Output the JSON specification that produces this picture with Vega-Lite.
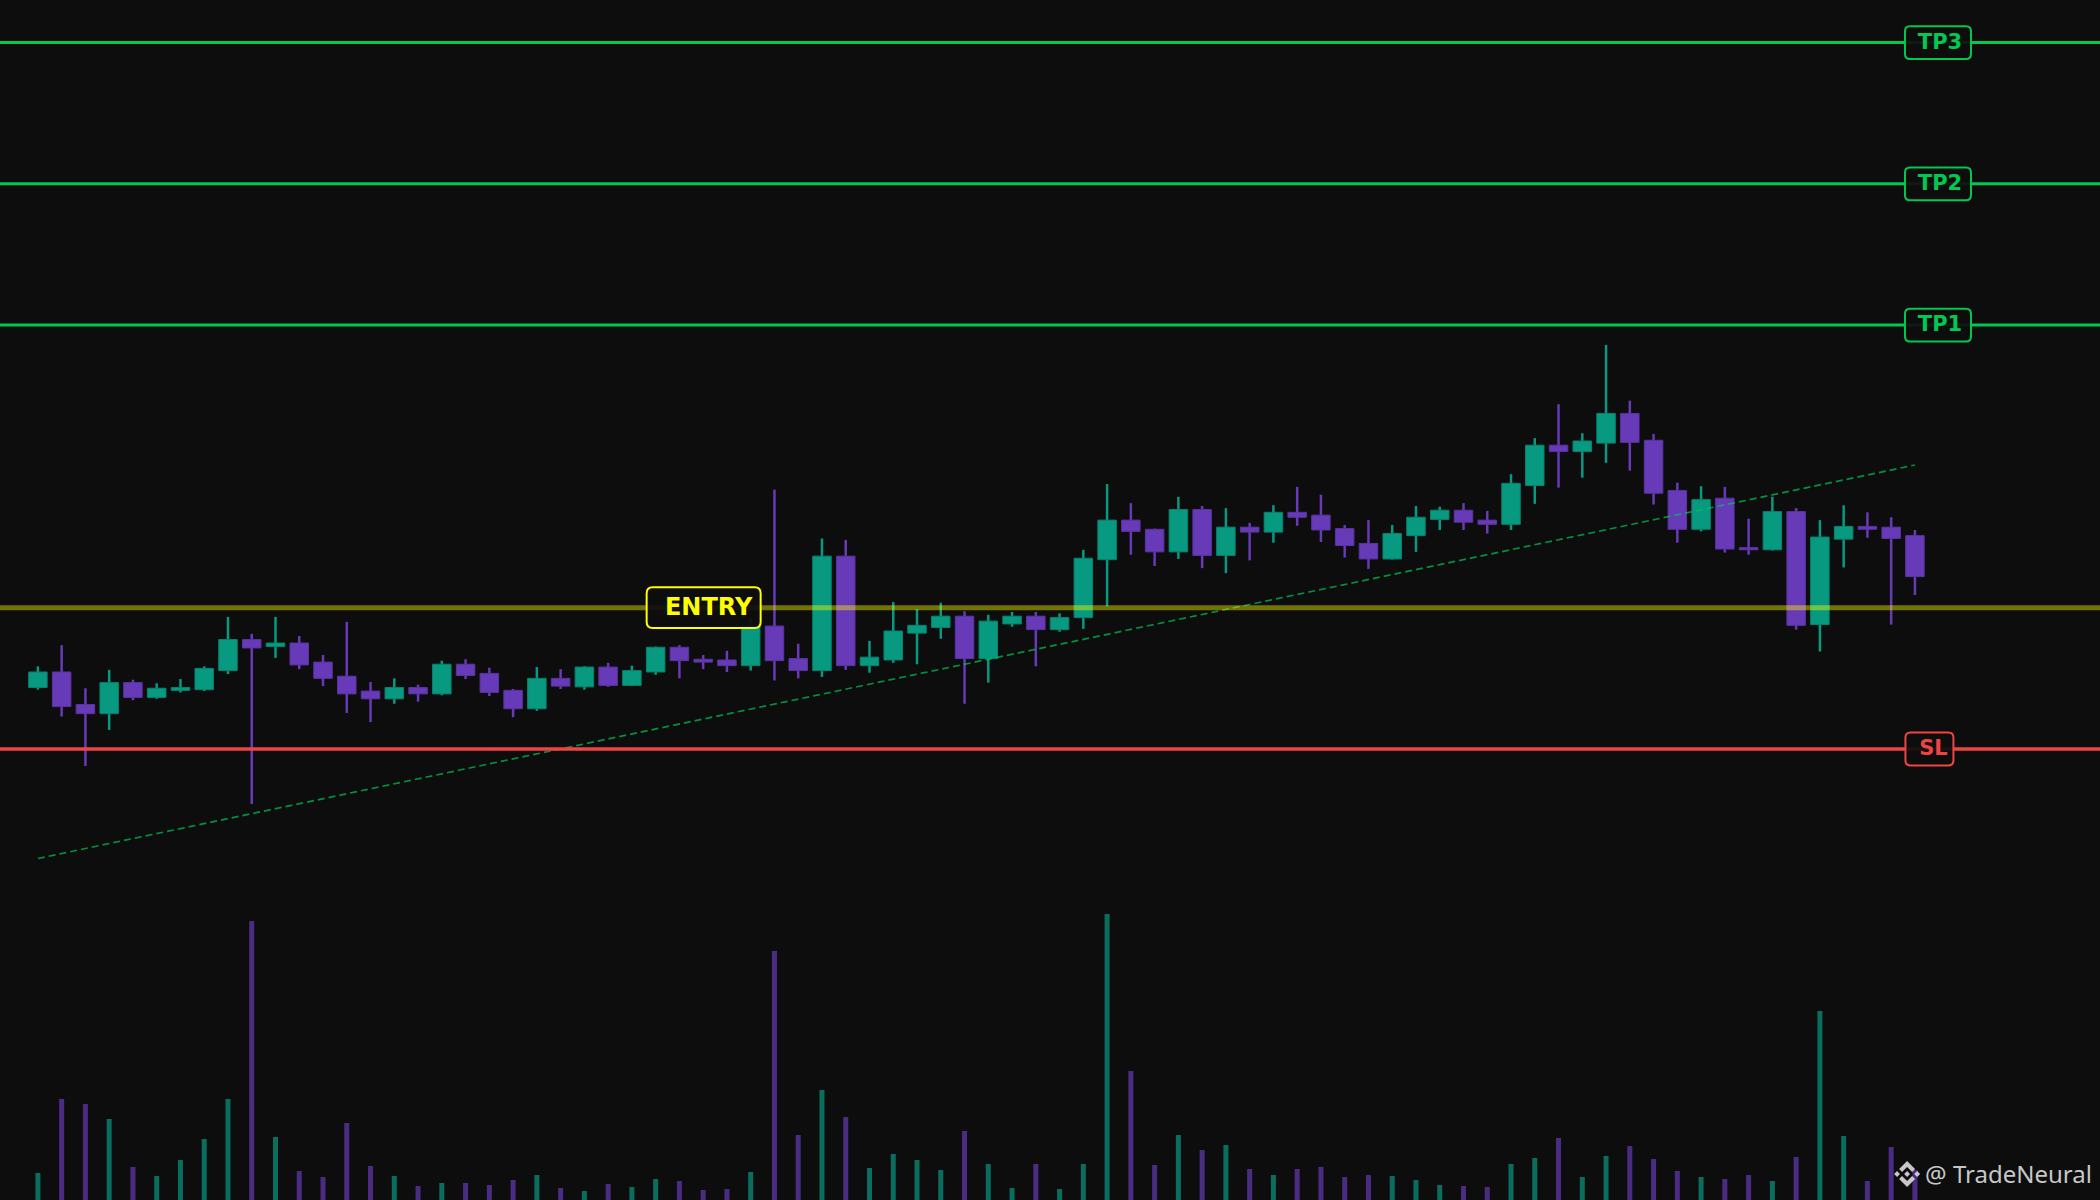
{
  "$schema": "https://vega.github.io/schema/vega-lite/v6.json",
  "width": 2100,
  "height": 1200,
  "autosize": {"type": "none"},
  "padding": 0,
  "background": "#0d0d0d",
  "config": {"view": {"stroke": null}},
  "datasets": {
    "candles": [
      {"i": 1, "open": 98.87, "high": 99.17, "low": 98.84, "close": 99.09, "volume": 270},
      {"i": 2, "open": 99.09, "high": 99.47, "low": 98.46, "close": 98.6, "volume": 1010},
      {"i": 3, "open": 98.63, "high": 98.86, "low": 97.76, "close": 98.5, "volume": 960},
      {"i": 4, "open": 98.5, "high": 99.12, "low": 98.27, "close": 98.94, "volume": 810},
      {"i": 5, "open": 98.94, "high": 98.98, "low": 98.69, "close": 98.73, "volume": 330},
      {"i": 6, "open": 98.73, "high": 98.93, "low": 98.71, "close": 98.86, "volume": 240},
      {"i": 7, "open": 98.83, "high": 98.99, "low": 98.8, "close": 98.87, "volume": 400},
      {"i": 8, "open": 98.84, "high": 99.17, "low": 98.82, "close": 99.14, "volume": 610},
      {"i": 9, "open": 99.11, "high": 99.87, "low": 99.06, "close": 99.55, "volume": 1010},
      {"i": 10, "open": 99.55, "high": 99.63, "low": 97.22, "close": 99.43, "volume": 2790},
      {"i": 11, "open": 99.45, "high": 99.87, "low": 99.29, "close": 99.5, "volume": 630},
      {"i": 12, "open": 99.5, "high": 99.6, "low": 99.13, "close": 99.19, "volume": 290},
      {"i": 13, "open": 99.23, "high": 99.33, "low": 98.89, "close": 99.0, "volume": 230},
      {"i": 14, "open": 99.03, "high": 99.8, "low": 98.51, "close": 98.78, "volume": 770},
      {"i": 15, "open": 98.82, "high": 98.95, "low": 98.38, "close": 98.71, "volume": 340},
      {"i": 16, "open": 98.71, "high": 99.0, "low": 98.64, "close": 98.87, "volume": 240},
      {"i": 17, "open": 98.87, "high": 98.91, "low": 98.67, "close": 98.78, "volume": 140},
      {"i": 18, "open": 98.78, "high": 99.25, "low": 98.76, "close": 99.2, "volume": 170},
      {"i": 19, "open": 99.2, "high": 99.27, "low": 98.99, "close": 99.04, "volume": 170},
      {"i": 20, "open": 99.07, "high": 99.15, "low": 98.75, "close": 98.8, "volume": 150},
      {"i": 21, "open": 98.83, "high": 98.85, "low": 98.45, "close": 98.57, "volume": 200},
      {"i": 22, "open": 98.57, "high": 99.16, "low": 98.54, "close": 99.0, "volume": 250},
      {"i": 23, "open": 99.0, "high": 99.13, "low": 98.85, "close": 98.89, "volume": 120},
      {"i": 24, "open": 98.88, "high": 99.17, "low": 98.84, "close": 99.16, "volume": 90},
      {"i": 25, "open": 99.16, "high": 99.22, "low": 98.88, "close": 98.9, "volume": 160},
      {"i": 26, "open": 98.9, "high": 99.18, "low": 98.89, "close": 99.11, "volume": 130},
      {"i": 27, "open": 99.09, "high": 99.45, "low": 99.05, "close": 99.44, "volume": 210},
      {"i": 28, "open": 99.44, "high": 99.47, "low": 99.0, "close": 99.25, "volume": 190},
      {"i": 29, "open": 99.27, "high": 99.33, "low": 99.13, "close": 99.23, "volume": 100},
      {"i": 30, "open": 99.26, "high": 99.39, "low": 99.09, "close": 99.18, "volume": 110},
      {"i": 31, "open": 99.18, "high": 99.85, "low": 99.11, "close": 99.74, "volume": 280},
      {"i": 32, "open": 99.74, "high": 101.67, "low": 98.97, "close": 99.25, "volume": 2490},
      {"i": 33, "open": 99.28, "high": 99.49, "low": 99.0, "close": 99.11, "volume": 650},
      {"i": 34, "open": 99.11, "high": 100.98, "low": 99.02, "close": 100.73, "volume": 1100},
      {"i": 35, "open": 100.73, "high": 100.96, "low": 99.12, "close": 99.18, "volume": 830},
      {"i": 36, "open": 99.18, "high": 99.53, "low": 99.08, "close": 99.3, "volume": 320},
      {"i": 37, "open": 99.26, "high": 100.08, "low": 99.22, "close": 99.67, "volume": 460},
      {"i": 38, "open": 99.64, "high": 99.98, "low": 99.2, "close": 99.75, "volume": 400},
      {"i": 39, "open": 99.72, "high": 100.07, "low": 99.56, "close": 99.88, "volume": 300},
      {"i": 40, "open": 99.88, "high": 99.95, "low": 98.64, "close": 99.28, "volume": 690},
      {"i": 41, "open": 99.28, "high": 99.9, "low": 98.94, "close": 99.81, "volume": 360},
      {"i": 42, "open": 99.77, "high": 99.94, "low": 99.73, "close": 99.88, "volume": 120},
      {"i": 43, "open": 99.88, "high": 99.94, "low": 99.17, "close": 99.69, "volume": 360},
      {"i": 44, "open": 99.69, "high": 99.92, "low": 99.66, "close": 99.86, "volume": 110},
      {"i": 45, "open": 99.86, "high": 100.82, "low": 99.7, "close": 100.7, "volume": 360},
      {"i": 46, "open": 100.68, "high": 101.75, "low": 100.02, "close": 101.24, "volume": 2860},
      {"i": 47, "open": 101.24, "high": 101.48, "low": 100.75, "close": 101.08, "volume": 1290},
      {"i": 48, "open": 101.11, "high": 101.12, "low": 100.59, "close": 100.79, "volume": 350},
      {"i": 49, "open": 100.79, "high": 101.57, "low": 100.69, "close": 101.39, "volume": 650},
      {"i": 50, "open": 101.39, "high": 101.44, "low": 100.56, "close": 100.74, "volume": 500},
      {"i": 51, "open": 100.74, "high": 101.41, "low": 100.49, "close": 101.14, "volume": 550},
      {"i": 52, "open": 101.14, "high": 101.2, "low": 100.67, "close": 101.07, "volume": 310},
      {"i": 53, "open": 101.07, "high": 101.45, "low": 100.92, "close": 101.35, "volume": 250},
      {"i": 54, "open": 101.35, "high": 101.71, "low": 101.16, "close": 101.28, "volume": 310},
      {"i": 55, "open": 101.31, "high": 101.6, "low": 100.93, "close": 101.1, "volume": 330},
      {"i": 56, "open": 101.12, "high": 101.17, "low": 100.71, "close": 100.88, "volume": 230},
      {"i": 57, "open": 100.91, "high": 101.24, "low": 100.55, "close": 100.69, "volume": 250},
      {"i": 58, "open": 100.69, "high": 101.17, "low": 100.68, "close": 101.05, "volume": 240},
      {"i": 59, "open": 101.02, "high": 101.44, "low": 100.79, "close": 101.28, "volume": 200},
      {"i": 60, "open": 101.25, "high": 101.43, "low": 101.1, "close": 101.38, "volume": 150},
      {"i": 61, "open": 101.38, "high": 101.48, "low": 101.1, "close": 101.21, "volume": 140},
      {"i": 62, "open": 101.24, "high": 101.37, "low": 101.05, "close": 101.18, "volume": 130},
      {"i": 63, "open": 101.18, "high": 101.89, "low": 101.1, "close": 101.76, "volume": 360},
      {"i": 64, "open": 101.73, "high": 102.4, "low": 101.47, "close": 102.3, "volume": 420},
      {"i": 65, "open": 102.3, "high": 102.88, "low": 101.7, "close": 102.21, "volume": 620},
      {"i": 66, "open": 102.21, "high": 102.47, "low": 101.84, "close": 102.36, "volume": 230},
      {"i": 67, "open": 102.33, "high": 103.72, "low": 102.05, "close": 102.75, "volume": 440},
      {"i": 68, "open": 102.75, "high": 102.93, "low": 101.94, "close": 102.34, "volume": 540},
      {"i": 69, "open": 102.37, "high": 102.46, "low": 101.46, "close": 101.62, "volume": 410},
      {"i": 70, "open": 101.66, "high": 101.77, "low": 100.92, "close": 101.11, "volume": 290},
      {"i": 71, "open": 101.11, "high": 101.72, "low": 101.08, "close": 101.53, "volume": 230},
      {"i": 72, "open": 101.55, "high": 101.71, "low": 100.78, "close": 100.83, "volume": 210},
      {"i": 73, "open": 100.85, "high": 101.26, "low": 100.75, "close": 100.82, "volume": 250},
      {"i": 74, "open": 100.82, "high": 101.57, "low": 100.81, "close": 101.36, "volume": 190},
      {"i": 75, "open": 101.36, "high": 101.41, "low": 99.69, "close": 99.75, "volume": 430},
      {"i": 76, "open": 99.76, "high": 101.24, "low": 99.38, "close": 101.0, "volume": 1890},
      {"i": 77, "open": 100.97, "high": 101.45, "low": 100.57, "close": 101.15, "volume": 640},
      {"i": 78, "open": 101.15, "high": 101.35, "low": 100.99, "close": 101.11, "volume": 190},
      {"i": 79, "open": 101.14, "high": 101.28, "low": 99.76, "close": 100.98, "volume": 530},
      {"i": 80, "open": 101.02, "high": 101.1, "low": 100.18, "close": 100.44, "volume": 300}
    ],
    "trend": [
      {"i": 1, "price": 96.45},
      {"i": 80, "price": 102.02}
    ],
    "levels": [
      {"level": "TP3", "price": 108, "kind": "tp"},
      {"level": "TP2", "price": 106, "kind": "tp"},
      {"level": "TP1", "price": 104, "kind": "tp"},
      {"level": "ENTRY", "price": 100, "kind": "entry"},
      {"level": "SL", "price": 98, "kind": "sl"}
    ],
    "brand": [
      {"name": "@ TradeNeural"}
    ]
  },
  "layer": [
    {
      "layer": [
        {
          "data": {"name": "candles"},
          "mark": {"type": "rule", "strokeWidth": 2.5},
          "encoding": {
            "x": {"field": "i", "type": "quantitative", "scale": {"domain": [-0.595, 87.789], "nice": false, "zero": false, "padding": 0}, "axis": null},
            "y": {"field": "low", "type": "quantitative", "scale": {"domain": [91.616, 108.602], "nice": false, "zero": false}, "axis": null},
            "y2": {"field": "high"},
            "color": {"condition": {"test": "datum.close >= datum.open", "value": "#089981"}, "value": "#673ab7"}
          }
        },
        {
          "data": {"name": "candles"},
          "mark": {"type": "bar", "size": 18.5, "strokeWidth": 1},
          "encoding": {
            "x": {"field": "i", "type": "quantitative", "scale": {"domain": [-0.595, 87.789], "nice": false, "zero": false, "padding": 0}, "axis": null},
            "y": {"field": "open", "type": "quantitative", "scale": {"domain": [91.616, 108.602], "nice": false, "zero": false}, "axis": null},
            "y2": {"field": "close"},
            "color": {"condition": {"test": "datum.close >= datum.open", "value": "#089981"}, "value": "#673ab7"},
            "stroke": {"condition": {"test": "datum.close >= datum.open", "value": "#07836e"}, "value": "#5a33a3"}
          }
        },
        {
          "data": {"name": "trend"},
          "mark": {"type": "line", "color": "#00c853", "opacity": 0.7, "strokeWidth": 1.7, "strokeDash": [7, 4]},
          "encoding": {
            "x": {"field": "i", "type": "quantitative", "scale": {"domain": [-0.595, 87.789], "nice": false, "zero": false, "padding": 0}, "axis": null},
            "y": {"field": "price", "type": "quantitative", "scale": {"domain": [91.616, 108.602], "nice": false, "zero": false}, "axis": null}
          }
        },
        {
          "data": {"name": "levels"},
          "transform": [{"filter": "datum.kind == 'tp'"}],
          "mark": {"type": "rule", "color": "#00c853", "strokeWidth": 3},
          "encoding": {
            "y": {"field": "price", "type": "quantitative", "scale": {"domain": [91.616, 108.602], "nice": false, "zero": false}, "axis": null}
          }
        },
        {
          "data": {"name": "levels"},
          "transform": [{"filter": "datum.kind == 'entry'"}],
          "mark": {"type": "rule", "color": "#ffff00", "opacity": 0.42, "strokeWidth": 5},
          "encoding": {
            "y": {"field": "price", "type": "quantitative", "scale": {"domain": [91.616, 108.602], "nice": false, "zero": false}, "axis": null}
          }
        },
        {
          "data": {"name": "levels"},
          "transform": [{"filter": "datum.kind == 'sl'"}],
          "mark": {"type": "rule", "color": "#ef4444", "strokeWidth": 3.5},
          "encoding": {
            "y": {"field": "price", "type": "quantitative", "scale": {"domain": [91.616, 108.602], "nice": false, "zero": false}, "axis": null}
          }
        },
        {
          "data": {"name": "levels"},
          "transform": [{"filter": "datum.kind == 'tp'"}],
          "mark": {
            "type": "point",
            "filled": false,
            "shape": "M-2.8,-1.635L2.8,-1.635Q3.3,-1.635 3.3,-1.135L3.3,1.135Q3.3,1.635 2.8,1.635L-2.8,1.635Q-3.3,1.635 -3.3,1.135L-3.3,-1.135Q-3.3,-1.635 -2.8,-1.635Z",
            "size": 400,
            "fill": "#0d0d0d",
            "fillOpacity": 0.92,
            "stroke": "#00c853",
            "strokeWidth": 2,
            "opacity": 1
          },
          "encoding": {
            "x": {"datum": 80.97, "type": "quantitative", "scale": {"domain": [-0.595, 87.789], "nice": false, "zero": false, "padding": 0}, "axis": null},
            "y": {"field": "price", "type": "quantitative", "scale": {"domain": [91.616, 108.602], "nice": false, "zero": false}, "axis": null}
          }
        },
        {
          "data": {"name": "levels"},
          "transform": [{"filter": "datum.kind == 'sl'"}],
          "mark": {
            "type": "point",
            "filled": false,
            "shape": "M-1.9,-1.65L1.9,-1.65Q2.4,-1.65 2.4,-1.15L2.4,1.15Q2.4,1.65 1.9,1.65L-1.9,1.65Q-2.4,1.65 -2.4,1.15L-2.4,-1.15Q-2.4,-1.65 -1.9,-1.65Z",
            "size": 400,
            "fill": "#0d0d0d",
            "fillOpacity": 0.92,
            "stroke": "#ef4444",
            "strokeWidth": 2,
            "opacity": 1
          },
          "encoding": {
            "x": {"datum": 80.61, "type": "quantitative", "scale": {"domain": [-0.595, 87.789], "nice": false, "zero": false, "padding": 0}, "axis": null},
            "y": {"field": "price", "type": "quantitative", "scale": {"domain": [91.616, 108.602], "nice": false, "zero": false}, "axis": null}
          }
        },
        {
          "data": {"name": "levels"},
          "transform": [{"filter": "datum.kind == 'entry'"}],
          "mark": {
            "type": "point",
            "filled": false,
            "shape": "M-5.1,-2.035L5.1,-2.035Q5.7,-2.035 5.7,-1.435L5.7,1.435Q5.7,2.035 5.1,2.035L-5.1,2.035Q-5.7,2.035 -5.7,1.435L-5.7,-1.435Q-5.7,-2.035 -5.1,-2.035Z",
            "size": 400,
            "fill": "#0d0d0d",
            "fillOpacity": 0.92,
            "stroke": "#ffff00",
            "strokeWidth": 2,
            "opacity": 1
          },
          "encoding": {
            "x": {"datum": 29.02, "type": "quantitative", "scale": {"domain": [-0.595, 87.789], "nice": false, "zero": false, "padding": 0}, "axis": null},
            "y": {"field": "price", "type": "quantitative", "scale": {"domain": [91.616, 108.602], "nice": false, "zero": false}, "axis": null}
          }
        },
        {
          "data": {"name": "levels"},
          "transform": [{"filter": "datum.kind == 'tp'"}],
          "mark": {"type": "text", "font": "DejaVu Sans", "fontWeight": "bold", "fontSize": 21, "color": "#00c853", "align": "center", "baseline": "alphabetic", "dx": 2, "dy": 6},
          "encoding": {
            "x": {"datum": 80.97, "type": "quantitative", "scale": {"domain": [-0.595, 87.789], "nice": false, "zero": false, "padding": 0}, "axis": null},
            "y": {"field": "price", "type": "quantitative", "scale": {"domain": [91.616, 108.602], "nice": false, "zero": false}, "axis": null},
            "text": {"field": "level"}
          }
        },
        {
          "data": {"name": "levels"},
          "transform": [{"filter": "datum.kind == 'sl'"}],
          "mark": {"type": "text", "font": "DejaVu Sans", "fontWeight": "bold", "fontSize": 21, "color": "#ef4444", "align": "center", "baseline": "alphabetic", "dx": 4, "dy": 6},
          "encoding": {
            "x": {"datum": 80.61, "type": "quantitative", "scale": {"domain": [-0.595, 87.789], "nice": false, "zero": false, "padding": 0}, "axis": null},
            "y": {"field": "price", "type": "quantitative", "scale": {"domain": [91.616, 108.602], "nice": false, "zero": false}, "axis": null},
            "text": {"field": "level"}
          }
        },
        {
          "data": {"name": "levels"},
          "transform": [{"filter": "datum.kind == 'entry'"}],
          "mark": {"type": "text", "font": "DejaVu Sans", "fontWeight": "bold", "fontSize": 24, "color": "#ffff00", "align": "center", "baseline": "alphabetic", "dx": 5, "dy": 7},
          "encoding": {
            "x": {"datum": 29.02, "type": "quantitative", "scale": {"domain": [-0.595, 87.789], "nice": false, "zero": false, "padding": 0}, "axis": null},
            "y": {"field": "price", "type": "quantitative", "scale": {"domain": [91.616, 108.602], "nice": false, "zero": false}, "axis": null},
            "text": {"field": "level"}
          }
        }
      ]
    },
    {
      "layer": [
        {
          "data": {"name": "candles"},
          "mark": {"type": "bar", "size": 5, "opacity": 0.7},
          "encoding": {
            "x": {"field": "i", "type": "quantitative", "scale": {"domain": [-0.595, 87.789], "nice": false, "zero": false, "padding": 0}, "axis": null},
            "y": {"field": "volume", "type": "quantitative", "scale": {"domain": [0, 12000], "nice": false, "zero": false}, "axis": null},
            "color": {"condition": {"test": "datum.close >= datum.open", "value": "#089981"}, "value": "#673ab7"}
          }
        },
        {
          "data": {"name": "brand"},
          "mark": {
            "type": "point",
            "filled": true,
            "shape": "M-0.388,-0.16L0,-0.548L0.389,-0.159L0.615,-0.385L0,-1L-0.614,-0.385ZM-1,0L-0.774,-0.226L-0.548,0L-0.774,0.226ZM-0.226,0L0,-0.226L0.226,0L0,0.226ZM0.548,0L0.774,-0.226L1,0L0.774,0.226ZM0.389,0.16L0,0.548L-0.388,0.16L-0.615,0.385L0,1L0.615,0.385Z",
            "size": 676,
            "color": "#dcdcdc",
            "opacity": 0.9
          },
          "encoding": {
            "x": {"datum": 79.67, "type": "quantitative", "scale": {"domain": [-0.595, 87.789], "nice": false, "zero": false, "padding": 0}, "axis": null},
            "y": {"datum": 260, "type": "quantitative", "scale": {"domain": [0, 12000], "nice": false, "zero": false}, "axis": null}
          }
        },
        {
          "data": {"name": "brand"},
          "mark": {"type": "text", "font": "Noto Sans", "fontSize": 24, "color": "#dcdcdc", "opacity": 0.9, "align": "right", "baseline": "alphabetic"},
          "encoding": {
            "x": {"datum": 87.45, "type": "quantitative", "scale": {"domain": [-0.595, 87.789], "nice": false, "zero": false, "padding": 0}, "axis": null},
            "y": {"datum": 173, "type": "quantitative", "scale": {"domain": [0, 12000], "nice": false, "zero": false}, "axis": null},
            "text": {"field": "name"}
          }
        }
      ]
    }
  ],
  "resolve": {"scale": {"y": "independent"}}
}
